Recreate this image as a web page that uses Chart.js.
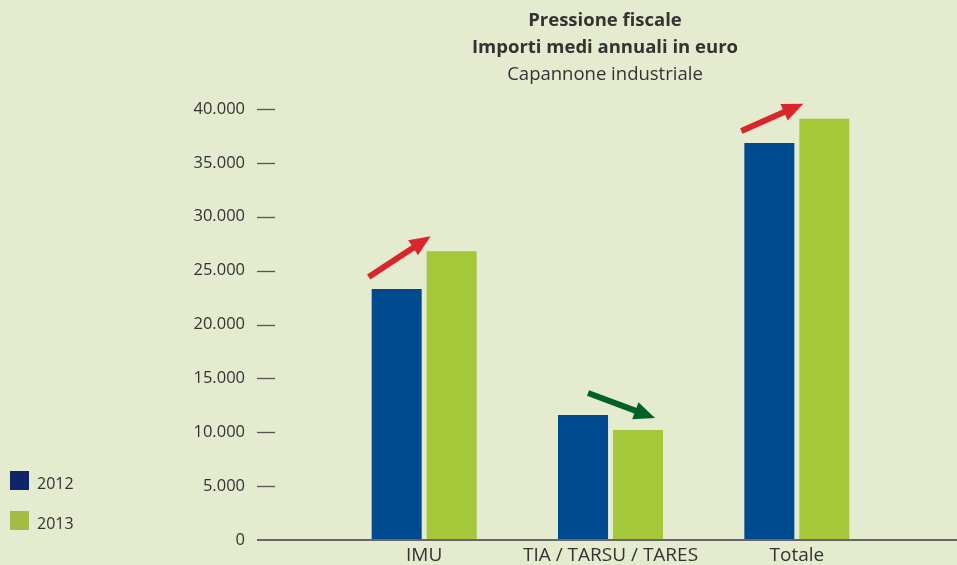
<!DOCTYPE html>
<html>
<head>
<meta charset="utf-8">
<script src="https://cdn.jsdelivr.net/npm/chart.js@4/dist/chart.umd.min.js"></script>
<style>
  html, body { margin: 0; padding: 0; background: #e4ebcf; }
  #wrap { position: relative; width: 957px; height: 565px; font-family: "Open Sans", sans-serif; color: #333; }
  #myChart { position: absolute; left: 0; top: 0; }
  .title { position: absolute; left: 405px; width: 400px; text-align: center; white-space: nowrap; font-size: 18.5px; }
  .legend { position: absolute; left: 10px; font-size: 16px; line-height: 19px; }
  .legend span { display: inline-block; width: 19px; height: 19px; vertical-align: top; margin-right: 8px; }
  .legend b { font-weight: normal; position: relative; top: 3px; }
</style>
</head>
<body>
<div id="wrap">
  <canvas id="myChart" width="957" height="565"></canvas>
  <div class="title" style="top:6px;font-weight:bold">Pressione fiscale</div>
  <div class="title" style="top:33px;font-weight:bold">Importi medi annuali in euro</div>
  <div class="title" style="top:60px">Capannone industriale</div>
  <div id="legend"></div>
</div>
<script>
const categories = ['IMU', 'TIA / TARSU / TARES', 'Totale'];
const years = ['2012', '2013'];
const values2012 = [23300, 11600, 36850];
const values2013 = [26800, 10200, 39100];
const yTicks = [0, 5000, 10000, 15000, 20000, 25000, 30000, 35000, 40000];

const barColors = ['#004a8f', '#a5c83a'];
const legendColors = ['#10246a', '#a5bb45'];

function fmt(v){
    return String(v).replace(/\B(?=(\d{3})+(?!\d))/g, '.');
}

// legend
let legendHtml = '';
years.forEach(function(y, i){
    legendHtml += `<div class="legend" style="top:${471 + i*40}px"><span style="background:${legendColors[i]}"></span><b>${y}</b></div>`;
});
document.getElementById('legend').innerHTML = legendHtml;

// axis line + dashes
const axisDeco = {
    id: 'axisDeco',
    afterDraw(chart){
        const ctx = chart.ctx;
        const y = chart.scales.y;
        ctx.save();
        ctx.strokeStyle = '#555';
        ctx.lineWidth = 1.3;
        yTicks.forEach(function(t){
            if (t === 0) return;
            const py = Math.round(y.getPixelForValue(t)) + 0.5;
            ctx.beginPath();
            ctx.moveTo(257, py);
            ctx.lineTo(275, py);
            ctx.stroke();
        });
        ctx.strokeStyle = '#666';
        ctx.lineWidth = 2;
        const p0 = Math.round(y.getPixelForValue(0));
        ctx.beginPath();
        ctx.moveTo(257, p0);
        ctx.lineTo(957, p0);
        ctx.stroke();
        ctx.restore();
    }
};

function drawArrow(ctx, x1, y1, x2, y2, color){
    const ang = Math.atan2(y2 - y1, x2 - x1);
    const headLen = 21, headW = 9;
    const bx = x2 - headLen * Math.cos(ang), by = y2 - headLen * Math.sin(ang);
    ctx.save();
    ctx.strokeStyle = color;
    ctx.fillStyle = color;
    ctx.lineWidth = 6;
    ctx.beginPath();
    ctx.moveTo(x1, y1);
    ctx.lineTo(bx + 2 * Math.cos(ang), by + 2 * Math.sin(ang));
    ctx.stroke();
    ctx.beginPath();
    ctx.moveTo(x2, y2);
    ctx.lineTo(bx + headW * Math.sin(ang), by - headW * Math.cos(ang));
    ctx.lineTo(bx - headW * Math.sin(ang), by + headW * Math.cos(ang));
    ctx.closePath();
    ctx.fill();
    ctx.restore();
}

// trend arrows between the two years
const trendArrows = {
    id: 'trendArrows',
    afterDatasetsDraw(chart){
        const ctx = chart.ctx;
        const m0 = chart.getDatasetMeta(0).data;
        const m1 = chart.getDatasetMeta(1).data;
        categories.forEach(function(c, i){
            const a = m0[i], b = m1[i];
            const aL = a.x - a.width / 2, bL = b.x - b.width / 2, bR = b.x + b.width / 2;
            if (values2013[i] >= values2012[i]) {
                drawArrow(ctx, aL - 3, a.y - 12, bL + 4, b.y - 15, '#d9262c');
            } else {
                drawArrow(ctx, a.x + 5, a.y - 22, bR - 8, b.y - 12, '#006325');
            }
        });
    }
};

new Chart(document.getElementById('myChart'), {
    type: 'bar',
    data: {
        labels: categories,
        datasets: [
            { label: years[0], data: values2012, backgroundColor: barColors[0] },
            { label: years[1], data: values2013, backgroundColor: barColors[1] }
        ]
    },
    options: {
        responsive: false,
        animation: false,
        categoryPercentage: 0.59,
        barPercentage: 0.91,
        layout: { padding: { top: 109, right: 67, left: 0, bottom: 0 } },
        plugins: {
            legend: { display: false },
            tooltip: { enabled: false }
        },
        scales: {
            x: {
                grid: { display: false, drawTicks: false },
                border: { display: false },
                ticks: { color: '#333', font: { family: 'Open Sans', size: 19 }, padding: 4, maxRotation: 0 },
                afterFit(scale){ scale.height = 25; }
            },
            y: {
                min: 0,
                max: 40000,
                afterBuildTicks(scale){ scale.ticks = yTicks.map(v => ({ value: v })); },
                grid: { display: false, drawTicks: false },
                border: { display: false },
                ticks: {
                    color: '#333',
                    font: { family: 'Open Sans', size: 16.5 },
                    padding: 86,
                    callback: v => fmt(v)
                },
                afterFit(scale){
                    scale.width = 331;
                    scale.paddingTop = 10;
                    scale.paddingBottom = 10;
                }
            }
        }
    },
    plugins: [axisDeco, trendArrows]
});
</script>
</body>
</html>
